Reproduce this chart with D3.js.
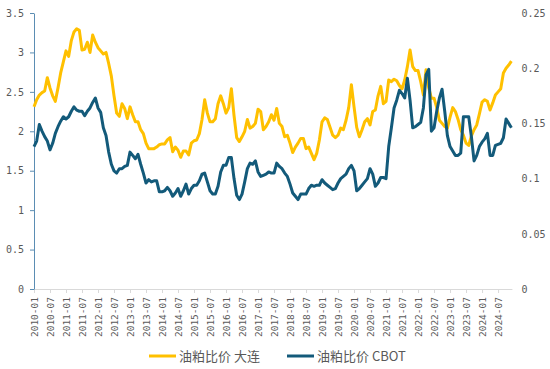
<!DOCTYPE html>
<html><head><meta charset="utf-8">
<script src="https://cdn.jsdelivr.net/npm/d3@7"></script>
<style>
html,body{margin:0;padding:0;background:#fff;}
svg{display:block;}
</style></head>
<body>
<svg id="chart" width="550" height="369"></svg>
<script>
// categories: monthly, 2010-01 .. 2024-12
const months = [];
for (let y = 2010; y <= 2024; y++) for (let m = 1; m <= 12; m++) months.push(y + "-" + String(m).padStart(2, "0"));

const tickLabels = ["2010-01","2010-07","2011-01","2011-07","2012-01","2012-07","2013-01","2013-07","2014-01","2014-07",
"2015-01","2015-07","2016-01","2016-07","2017-01","2017-07","2018-01","2018-07","2019-01","2019-07","2020-01","2020-07",
"2021-01","2021-07","2022-01","2022-07","2023-01","2023-07","2024-01","2024-07"];

const leftTicks = [0, 0.5, 1, 1.5, 2, 2.5, 3, 3.5];
const rightTicks = [0, 0.05, 0.1, 0.15, 0.2, 0.25];

// 油粕比价 大连 (left axis)
const dalian = [
2.31,2.40,2.46,2.49,2.51,2.68,2.55,2.45,2.38,2.55,
2.74,2.88,3.02,2.95,3.15,3.26,3.30,3.28,3.03,3.04,
3.13,3.00,3.22,3.13,3.06,3.02,2.98,3.00,2.86,2.70,
2.45,2.23,2.19,2.35,2.29,2.16,2.31,2.21,2.12,2.12,
2.02,1.97,1.85,1.78,1.78,1.78,1.80,1.83,1.84,1.84,
1.89,1.92,1.74,1.80,1.76,1.67,1.75,1.75,1.70,1.85,
1.88,1.89,1.97,2.15,2.40,2.23,2.12,2.12,2.16,2.35,
2.45,2.35,2.23,2.30,2.54,2.20,1.92,1.87,1.93,2.00,
2.15,2.04,2.06,2.10,2.28,2.25,2.02,2.06,2.12,2.21,
2.14,2.29,2.10,2.06,1.93,1.95,1.85,1.73,1.80,1.85,
1.91,1.91,1.78,1.80,1.72,1.64,1.72,1.89,2.12,2.17,
2.15,2.05,1.95,1.92,1.95,2.04,2.02,2.14,2.30,2.59,
2.31,2.05,1.93,2.02,2.12,2.16,2.08,2.25,2.27,2.45,
2.57,2.35,2.38,2.65,2.63,2.66,2.64,2.58,2.54,2.65,
2.82,3.03,2.82,2.77,2.77,2.63,2.46,2.78,2.55,2.42,
2.42,2.30,2.14,2.10,2.06,2.04,2.18,2.30,2.25,2.15,
2.02,1.95,1.85,1.82,1.94,2.02,2.08,2.22,2.37,2.40,
2.38,2.27,2.36,2.46,2.50,2.54,2.74,2.80,2.84,2.89];

// 油粕比价 CBOT (right axis)
const cbot = [
0.129,0.134,0.149,0.143,0.138,0.134,0.126,0.132,0.141,0.147,
0.152,0.156,0.154,0.156,0.161,0.165,0.162,0.161,0.161,0.157,
0.161,0.164,0.169,0.173,0.164,0.160,0.146,0.139,0.124,0.113,
0.107,0.105,0.109,0.109,0.111,0.112,0.124,0.121,0.118,0.122,
0.113,0.105,0.096,0.099,0.097,0.098,0.098,0.088,0.088,0.089,
0.092,0.089,0.084,0.087,0.091,0.084,0.089,0.095,0.086,0.091,
0.094,0.094,0.098,0.104,0.105,0.097,0.089,0.086,0.086,0.093,
0.106,0.112,0.112,0.119,0.119,0.100,0.085,0.081,0.086,0.097,
0.109,0.114,0.113,0.116,0.106,0.102,0.103,0.104,0.106,0.105,
0.105,0.114,0.111,0.109,0.105,0.102,0.095,0.087,0.084,0.081,
0.086,0.086,0.086,0.091,0.094,0.093,0.094,0.094,0.099,0.096,
0.094,0.092,0.090,0.091,0.096,0.100,0.102,0.104,0.109,0.112,
0.107,0.089,0.091,0.094,0.097,0.100,0.109,0.104,0.093,0.096,
0.101,0.101,0.100,0.129,0.146,0.164,0.171,0.180,0.177,0.173,
0.191,0.171,0.146,0.147,0.149,0.151,0.164,0.194,0.199,0.143,
0.146,0.161,0.173,0.181,0.161,0.139,0.129,0.125,0.121,0.121,
0.123,0.156,0.156,0.156,0.138,0.116,0.121,0.129,0.133,0.136,
0.141,0.121,0.121,0.130,0.131,0.132,0.137,0.154,0.150,0.146];

const seriesNames = ["油粕比价 大连", "油粕比价 CBOT"];
const colors = ["#FFC000", "#135A7A"];

const svg = d3.select("#chart");
const plot = {left: 34, right: 511.4, top: 13, bottom: 289};

const x = d3.scaleLinear().domain([0, months.length - 1]).range([plot.left, plot.right]);
const yL = d3.scaleLinear().domain([0, 3.5]).range([plot.bottom, plot.top]);
const yR = d3.scaleLinear().domain([0, 0.25]).range([plot.bottom, plot.top]);

const monoFont = "'DejaVu Sans Mono', monospace";

// x axis
const xAxis = d3.axisBottom(x)
  .tickValues(tickLabels.map(t => months.indexOf(t)))
  .tickFormat(i => months[i])
  .tickSize(4).tickSizeOuter(0);
const gx = svg.append("g").attr("transform", `translate(0,${plot.bottom})`).call(xAxis);
gx.select(".domain").attr("stroke", "#d9d9d9").attr("d", `M${plot.left},0.5H${plot.right + 1}`);
gx.selectAll(".tick line").attr("stroke", "#d9d9d9");
gx.selectAll(".tick text")
  .attr("transform", "rotate(-90)")
  .attr("text-anchor", "end")
  .attr("x", -8).attr("y", 0).attr("dy", "0.35em")
  .attr("fill", "#595959")
  .style("font-family", monoFont).style("font-size", "9.5px");

// left axis
const gl = svg.append("g").attr("transform", `translate(${plot.left},0)`)
  .call(d3.axisLeft(yL).tickValues(leftTicks).tickFormat(d => String(d)).tickSize(4).tickSizeOuter(0));
gl.select(".domain").attr("stroke", "#5b8db3");
gl.selectAll(".tick line").attr("stroke", "#5b8db3");
gl.selectAll(".tick text").attr("x", -10).attr("fill", "#595959")
  .style("font-family", monoFont).style("font-size", "10px");

// right axis
const gr = svg.append("g").attr("transform", `translate(${plot.right + 9},0)`)
  .call(d3.axisRight(yR).tickValues(rightTicks).tickFormat(d => String(d)).tickSize(0));
gr.select(".domain").remove();
gr.selectAll(".tick text").attr("x", 1).attr("fill", "#595959")
  .style("font-family", monoFont).style("font-size", "10px");

// lines
const lineL = d3.line().x((d, i) => x(i)).y(d => yL(d));
const lineR = d3.line().x((d, i) => x(i)).y(d => yR(d));

svg.append("path").datum(dalian).attr("d", lineL)
  .attr("fill", "none").attr("stroke", colors[0]).attr("stroke-width", 3).attr("stroke-linejoin", "round");
svg.append("path").datum(cbot).attr("d", lineR)
  .attr("fill", "none").attr("stroke", colors[1]).attr("stroke-width", 3).attr("stroke-linejoin", "round");

// legend
const legendItems = [{x: 149, name: seriesNames[0], color: colors[0]}, {x: 287, name: seriesNames[1], color: colors[1]}];
const lg = svg.append("g");
legendItems.forEach(it => {
  lg.append("line").attr("x1", it.x).attr("x2", it.x + 27).attr("y1", 356).attr("y2", 356)
    .attr("stroke", it.color).attr("stroke-width", 3);
  lg.append("text").attr("x", it.x + 30).attr("y", 356).attr("dy", "0.36em")
    .attr("fill", "#595959").style("font-family", "'Noto Sans CJK SC', sans-serif").style("font-size", "13px")
    .text(it.name);
});
</script>
</body></html>
